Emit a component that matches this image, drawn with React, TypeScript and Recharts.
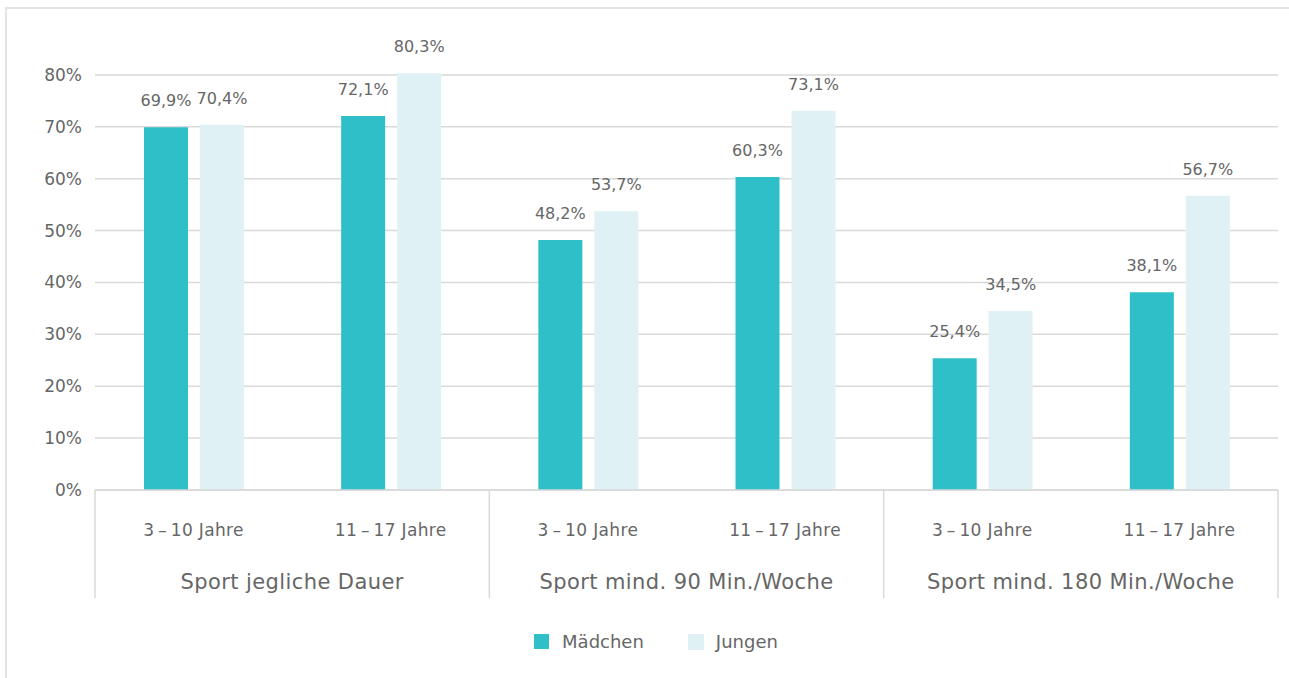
import React from 'react';
import { BarChart, Bar, XAxis, YAxis, CartesianGrid, LabelList, Legend } from 'recharts';

const subCategories = ['3\u2009–\u200910 Jahre', '11\u2009–\u200917 Jahre', '3\u2009–\u200910 Jahre', '11\u2009–\u200917 Jahre', '3\u2009–\u200910 Jahre', '11\u2009–\u200917 Jahre'];
const groups = ['Sport jegliche Dauer', 'Sport jegliche Dauer', 'Sport mind. 90 Min./Woche', 'Sport mind. 90 Min./Woche', 'Sport mind. 180 Min./Woche', 'Sport mind. 180 Min./Woche'];
const maedchen = [69.9, 72.1, 48.2, 60.3, 25.4, 38.1];
const jungen = [70.4, 80.3, 53.7, 73.1, 34.5, 56.7];
const yTicks = [0, 10, 20, 30, 40, 50, 60, 70, 80];

const data = subCategories.map((s, i) => ({
  id: i,
  sub: s,
  group: groups[i],
  maedchen: maedchen[i],
  jungen: jungen[i],
}));

const W = 1289;
const H = 678;
const LEFT = 95;
const RIGHT_MARGIN = 11;
const GROUP_W = (W - LEFT - RIGHT_MARGIN) / 3;
const FONT = '"DejaVu Sans", Verdana, sans-serif';
const TEXT = '#666666';
const GRID = '#d9d9d9';
const C1 = '#2ebfc8';
const C2 = '#dff1f4';

const fmt = (v: number) => v.toFixed(1).replace('.', ',') + '%';

const SubTick = (props: any) => {
  const { x, y, payload } = props;
  return (
    <text x={x} y={y + 46} textAnchor="middle" fontSize={17} fill={TEXT} fontFamily={FONT} letterSpacing={0.35}>
      {payload.value}
    </text>
  );
};

const GroupTick = (props: any) => {
  const { x, y, payload, index, visibleTicksCount } = props;
  const last = index === (visibleTicksCount ?? 3) - 1;
  return (
    <g>
      <line x1={x - GROUP_W / 2} x2={x - GROUP_W / 2} y1={y - 50} y2={y + 58} stroke={GRID} strokeWidth={1.5} />
      {last && (
        <line x1={x + GROUP_W / 2} x2={x + GROUP_W / 2} y1={y - 50} y2={y + 58} stroke={GRID} strokeWidth={1.5} />
      )}
      <text x={x} y={y + 49} textAnchor="middle" fontSize={21} fill={TEXT} fontFamily={FONT} letterSpacing={0.4}>
        {payload.value}
      </text>
    </g>
  );
};

const LegendContent = () => (
  <div style={{ display: 'flex', justifyContent: 'center', alignItems: 'center', fontFamily: FONT, fontSize: 18, color: TEXT, paddingTop: 33, paddingLeft: 23 }}>
    <span style={{ display: 'inline-flex', alignItems: 'center', marginRight: 44 }}>
      <span style={{ width: 15, height: 15, background: C1, display: 'inline-block', marginRight: 13 }} />
      Mädchen
    </span>
    <span style={{ display: 'inline-flex', alignItems: 'center' }}>
      <span style={{ width: 16, height: 16, background: C2, display: 'inline-block', marginRight: 12 }} />
      Jungen
    </span>
  </div>
);

export default function App() {
  return (
    <div style={{ position: 'absolute', left: 0, top: 0, width: W, height: H, overflow: 'hidden', background: '#fff' }}>
      <div style={{ position: 'absolute', left: 5, top: 7, width: 1320, height: 720, border: '2px solid #e4e4e4' }} />
      <div style={{ position: 'absolute', left: 0, top: 0 }}>
        <BarChart width={W} height={H} data={data} margin={{ top: 23, right: RIGHT_MARGIN, left: 0, bottom: 0 }} barGap={12} barSize={44}>
          <CartesianGrid vertical={false} stroke={GRID} strokeWidth={1.5} xAxisId={0} horizontalValues={yTicks} />
          <YAxis
            width={LEFT}
            domain={[0, 90]}
            ticks={yTicks}
            tickFormatter={(v: number) => v + '%'}
            axisLine={false}
            tickLine={false}
            tickSize={0}
            tickMargin={13}
            tick={{ fontSize: 17, fill: TEXT, fontFamily: FONT }}
          />
          <XAxis
            xAxisId={0}
            dataKey="sub"
            height={50}
            tickLine={false}
            tickSize={0}
            tickMargin={0}
            axisLine={{ stroke: GRID, strokeWidth: 1.5 }}
            tick={<SubTick />}
            interval={0}
          />
          <XAxis
            xAxisId={1}
            dataKey="group"
            allowDuplicatedCategory={false}
            height={58}
            tickLine={false}
            tickSize={0}
            tickMargin={0}
            axisLine={false}
            tick={<GroupTick />}
            interval={0}
          />
          <Legend
            verticalAlign="bottom"
            content={<LegendContent />}
            wrapperStyle={{ left: 0, width: W, height: 80 }}
          />
          <Bar xAxisId={0} dataKey="maedchen" name="Mädchen" fill={C1} isAnimationActive={false}>
            <LabelList dataKey="maedchen" position="top" offset={21} formatter={(v: any) => fmt(Number(v))} style={{ fontSize: 16, fill: TEXT, fontFamily: FONT }} />
          </Bar>
          <Bar xAxisId={0} dataKey="jungen" name="Jungen" fill={C2} isAnimationActive={false}>
            <LabelList dataKey="jungen" position="top" offset={21} formatter={(v: any) => fmt(Number(v))} style={{ fontSize: 16, fill: TEXT, fontFamily: FONT }} />
          </Bar>
        </BarChart>
      </div>
    </div>
  );
}
